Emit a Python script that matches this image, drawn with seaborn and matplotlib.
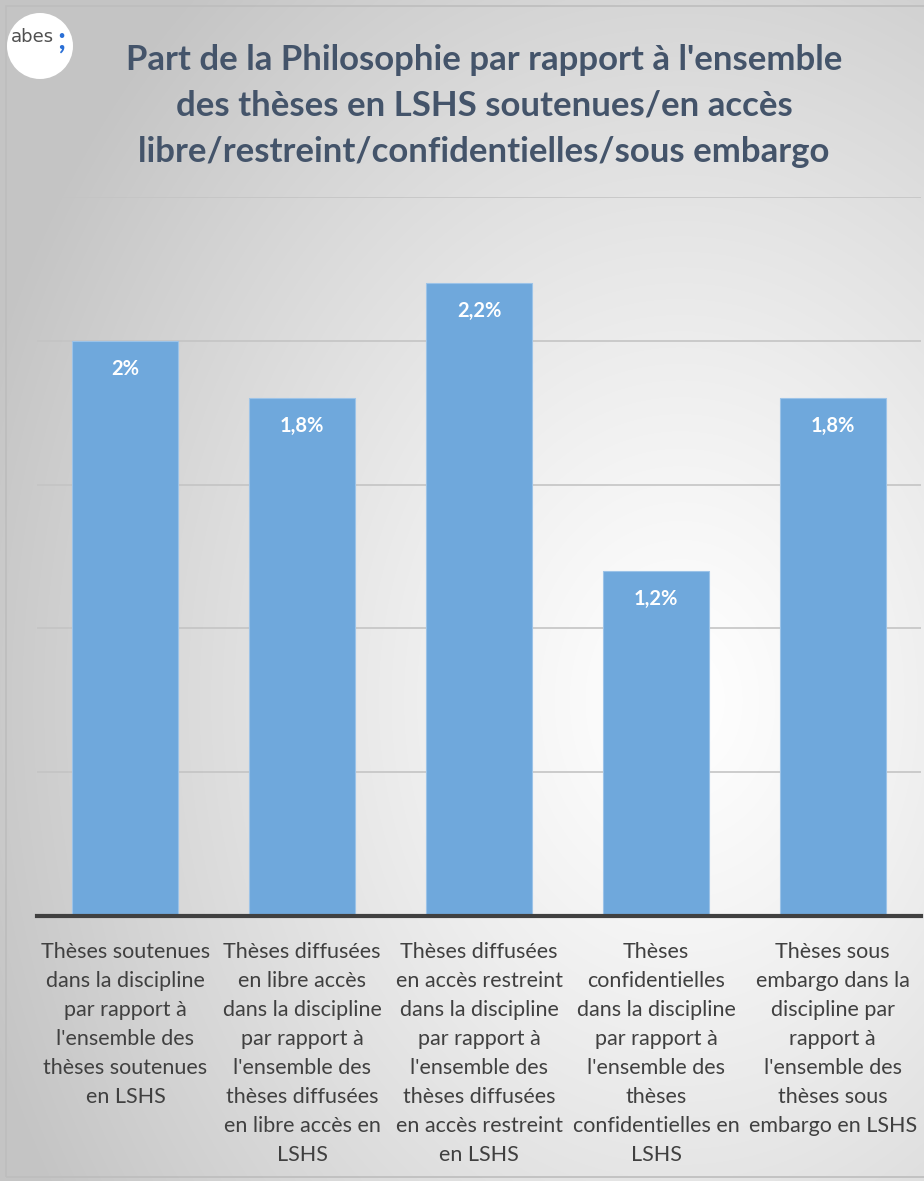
import numpy as np
import pandas as pd
import matplotlib
matplotlib.use("Agg")
import matplotlib.pyplot as plt
import seaborn as sns
from matplotlib.patches import Ellipse, Rectangle

# Données
categories = [
    "Thèses soutenues\ndans la discipline\npar rapport à\nl'ensemble des\nthèses soutenues\nen LSHS",
    "Thèses diffusées\nen libre accès\ndans la discipline\npar rapport à\nl'ensemble des\nthèses diffusées\nen libre accès en\nLSHS",
    "Thèses diffusées\nen accès restreint\ndans la discipline\npar rapport à\nl'ensemble des\nthèses diffusées\nen accès restreint\nen LSHS",
    "Thèses\nconfidentielles\ndans la discipline\npar rapport à\nl'ensemble des\nthèses\nconfidentielles en\nLSHS",
    "Thèses sous\nembargo dans la\ndiscipline par\nrapport à\nl'ensemble des\nthèses sous\nembargo en LSHS",
]
values = [2.0, 1.8, 2.2, 1.2, 1.8]
value_labels = ["2%", "1,8%", "2,2%", "1,2%", "1,8%"]
title = ("Part de la Philosophie par rapport à l'ensemble\n"
         "des thèses en LSHS soutenues/en accès\n"
         "libre/restreint/confidentielles/sous embargo")

sns.set_theme(style="white")
plt.rcParams["font.family"] = ["Lato", "DejaVu Sans"]

df = pd.DataFrame({"cat": categories, "val": values})

fig = plt.figure(figsize=(9.24, 11.81), dpi=100)

# fond en dégradé radial
bg = fig.add_axes([0, 0, 1, 1], zorder=-10)
yy, xx = np.mgrid[0:1181, 0:924]
d = np.sqrt(((xx - 680) / 924) ** 2 + ((yy - 700) / 1181) ** 2)
shade = 1.0 - 0.23 * np.clip(d / 0.8, 0, 1) ** 1.2
bg.imshow(np.dstack([shade, shade, shade]), aspect="auto", extent=[0, 1, 0, 1])
bg.axis("off")
fig.patches.append(Rectangle((0.006, 0.003), 1.1, 0.992, transform=fig.transFigure,
                             fill=False, edgecolor="#bdbdbd", lw=1.2))

ax = fig.add_axes([0.040, 0.2244, 0.957, 0.6088])
ax.patch.set_alpha(0)
sns.barplot(data=df, x="cat", y="val", color="#6fa8dc", width=0.6,
            edgecolor="#9cc3e8", linewidth=0.8, saturation=1, ax=ax, zorder=3)
ax.set_ylim(0, 2.5)
ax.set_xlim(-0.5, 4.5)
ax.set_yticks([0.5, 1.0, 1.5, 2.0, 2.5])
ax.yaxis.grid(True, color="#c4c4c4", lw=1.2)
ax.set_yticklabels([])
ax.tick_params(left=False, bottom=False)
for s in ["top", "right", "left"]:
    ax.spines[s].set_visible(False)
ax.spines["bottom"].set_color("#404040")
ax.spines["bottom"].set_linewidth(3)
ax.spines["bottom"].set_zorder(5)
ax.set_xlabel("")
ax.set_ylabel("")
ax.set_xticks(range(len(categories)))
ax.set_xticklabels(categories, fontsize=15.5, color="#404040", linespacing=1.56,
                   va="top", ha="center")
ax.tick_params(axis="x", pad=13)

for i, (v, lab) in enumerate(zip(values, value_labels)):
    ax.annotate(lab, (i, v), xytext=(0, -20), textcoords="offset points",
                ha="center", va="center", color="white", fontsize=14.5,
                fontweight="bold", zorder=6)

fig.text(0.524, 0.963, title, ha="center", va="top", fontsize=25,
         fontweight="bold", color="#44546a", linespacing=1.55)

# logo abes
fig.patches.append(Ellipse((40 / 924, 1 - 46 / 1181), 66 / 924, 66 / 1181,
                           transform=fig.transFigure, facecolor="white", edgecolor="none"))
fig.text(32 / 924, 1 - 37 / 1181, "abes", ha="center", va="center",
         fontsize=13, color="#505050", family="Liberation Sans Narrow")
fig.text(61 / 924, 1 - 40 / 1181, ";", ha="center", va="center",
         fontsize=22, fontweight="bold", color="#2a6fd6")

fig.savefig("out.png", dpi=100)
